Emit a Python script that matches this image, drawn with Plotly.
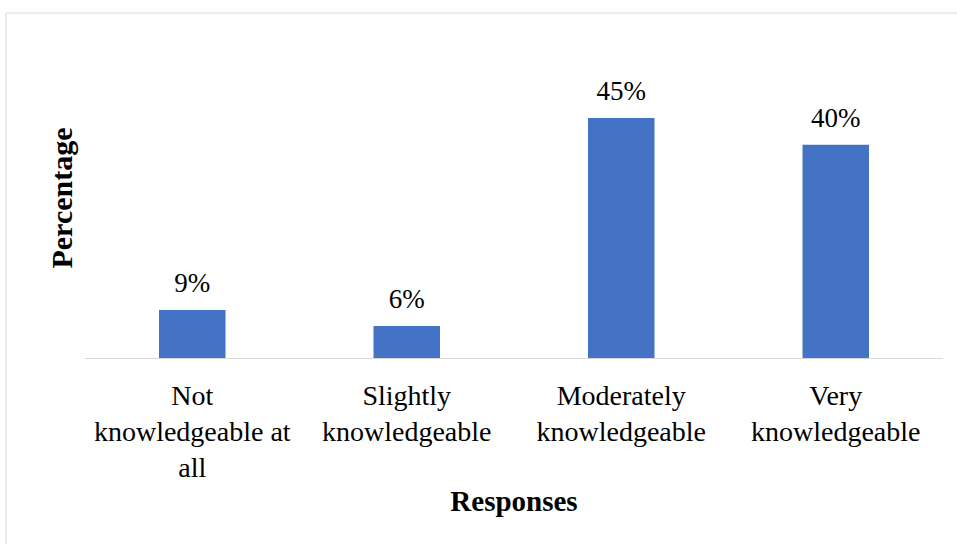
import plotly.graph_objects as go

# Survey responses on knowledge level
categories = [
    "Not<br>knowledgeable at<br>all",
    "Slightly<br>knowledgeable",
    "Moderately<br>knowledgeable",
    "Very<br>knowledgeable",
]
percentages = [9, 6, 45, 40]
value_labels = [f"{v}%" for v in percentages]

SERIF = "Liberation Serif, serif"
BAR_BLUE = "#4472C4"
FRAME_GREY = "#D9D9D9"

fig = go.Figure()

fig.add_trace(
    go.Bar(
        x=categories,
        y=percentages,
        width=0.31,
        marker=dict(color=BAR_BLUE, line=dict(width=0)),
        hoverinfo="x+y",
    )
)

# value labels sitting above each bar
fig.add_trace(
    go.Scatter(
        x=categories,
        y=percentages,
        mode="markers+text",
        text=value_labels,
        textposition="top center",
        textfont=dict(family=SERIF, size=27, color="black"),
        marker=dict(size=16, opacity=0),
        hoverinfo="skip",
        cliponaxis=False,
    )
)

fig.update_layout(
    width=957,
    height=544,
    margin=dict(l=85, r=14, t=38, b=186),
    paper_bgcolor="white",
    plot_bgcolor="white",
    showlegend=False,
    font=dict(family=SERIF, size=28, color="black"),
    xaxis=dict(
        showline=True,
        linecolor=FRAME_GREY,
        linewidth=1,
        showgrid=False,
        ticks="",
        tickfont=dict(family=SERIF, size=28, color="black"),
        ticklabelstandoff=12,
        title=dict(
            text="<b>Responses</b>",
            font=dict(family=SERIF, size=29, color="black"),
            standoff=8,
        ),
    ),
    yaxis=dict(
        range=[0, 60],
        showgrid=False,
        showline=False,
        zeroline=False,
        showticklabels=False,
        ticks="",
        title=dict(
            text="<b>Percentage</b>",
            font=dict(family=SERIF, size=30, color="black"),
            standoff=2,
        ),
    ),
    shapes=[
        dict(
            type="rect",
            xref="paper",
            yref="paper",
            x0=-0.0921,
            x1=1.05,
            y0=-0.8,
            y1=1.078,
            line=dict(color=FRAME_GREY, width=1),
            fillcolor="rgba(0,0,0,0)",
            layer="below",
        )
    ],
)

fig.write_html("out.html")
